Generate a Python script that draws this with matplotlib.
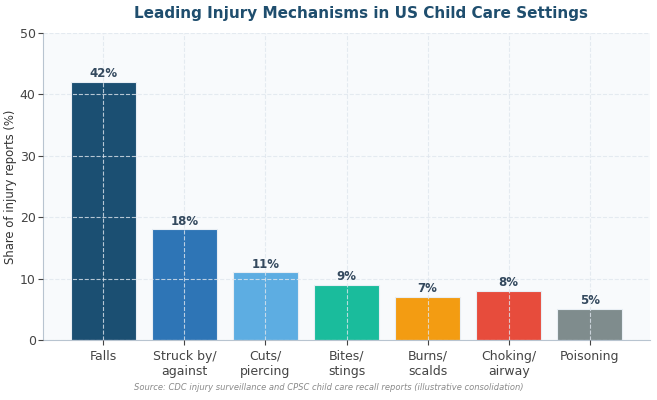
import matplotlib
matplotlib.use("Agg")
import matplotlib.pyplot as plt

categories = ["Falls", "Struck by/\nagainst", "Cuts/\npiercing", "Bites/\nstings",
              "Burns/\nscalds", "Choking/\nairway", "Poisoning"]
shares = [42, 18, 11, 9, 7, 8, 5]
colors = ["#1b4f72", "#2e75b6", "#5dade2", "#1abc9c", "#f39c12", "#e74c3c", "#7f8c8d"]

fig = plt.figure(figsize=(6.57, 4.0), dpi=100)
ax = fig.add_axes([0.066, 0.15, 0.923, 0.768])
ax.set_facecolor("#f8fafc")

bars = ax.bar(range(len(categories)), shares, width=0.8, color=colors,
              edgecolor="#e8eef4", linewidth=0.8)
for b, v in zip(bars, shares):
    ax.text(b.get_x() + b.get_width() / 2, v + 0.3, f"{v}%", ha="center", va="bottom",
            fontsize=8.5, fontweight="bold", color="#34495e")

ax.set_xticks(range(len(categories)))
ax.set_xticklabels(categories, fontsize=9, color="#222222")
ax.set_ylim(0, 50)
ax.set_yticks([0, 10, 20, 30, 40, 50])
ax.tick_params(axis="y", labelsize=9, labelcolor="#222222", pad=2)
ax.tick_params(colors="#444444", which="both")
ax.set_ylabel("Share of injury reports (%)", fontsize=8.4, color="#333333")
ax.yaxis.set_label_coords(-0.043, 0.5)
ax.grid(True, linestyle="--", color="#dfe6ee", linewidth=0.8, alpha=0.8)
ax.set_axisbelow(False)
for s in ["top", "right"]:
    ax.spines[s].set_visible(False)
for s in ["left", "bottom"]:
    ax.spines[s].set_color("#b8c4d0")

fig.text(0.55, 0.967, "Leading Injury Mechanisms in US Child Care Settings", ha="center", va="center",
         fontsize=11, fontweight="bold", color="#1f4e6e")
fig.text(0.5, 0.03, "Source: CDC injury surveillance and CPSC child care recall reports (illustrative consolidation)",
         ha="center", va="center", fontsize=6, style="italic", color="#8a8a8a")

fig.savefig("out.png", dpi=100)
